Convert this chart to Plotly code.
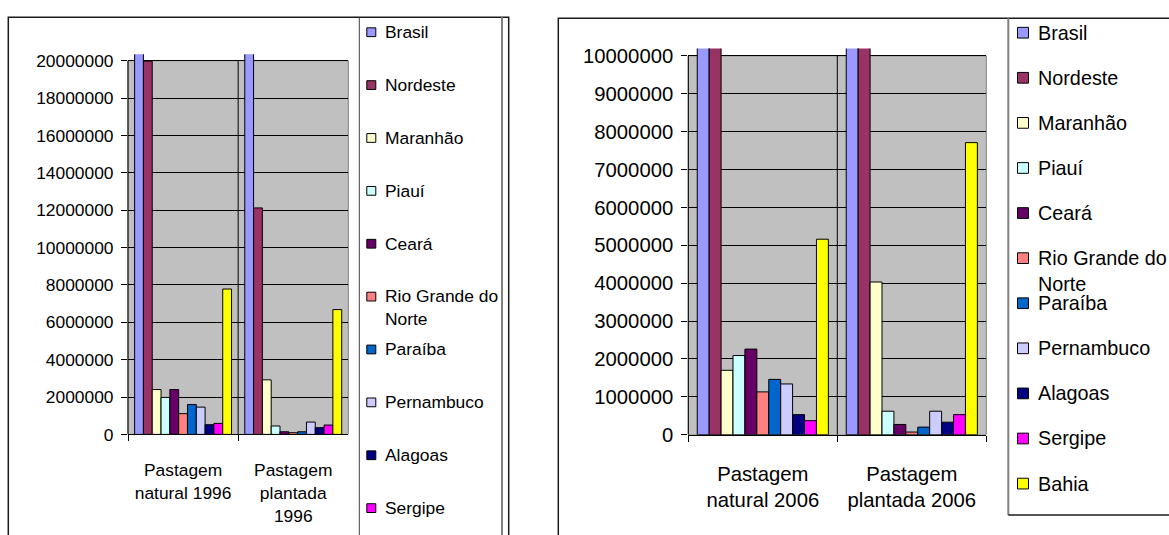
import plotly.graph_objects as go

W, H = 1169, 535
FONT = "Liberation Sans, Arial, sans-serif"

# Series (one per region) and their Excel-style fill colours
regions = ["Brasil", "Nordeste", "Maranhão", "Piauí", "Ceará", "Rio Grande do Norte",
           "Paraíba", "Pernambuco", "Alagoas", "Sergipe", "Bahia"]
colors = ["#9999FF", "#993366", "#FFFFCC", "#CCFFFF", "#660066", "#FF8080",
          "#0066CC", "#CCCCFF", "#000080", "#FF00FF", "#FFFF00"]

# Category labels for each census
categories_1996 = ["Pastagem<br>natural 1996", "Pastagem<br>plantada<br>1996"]
categories_2006 = ["Pastagem<br>natural 2006", "Pastagem<br>plantada 2006"]

# Pasture area (ha) per region, same order as `regions`
natural_1996 = [78000000, 19980000, 2400000, 1980000, 2400000, 1110000,
                1600000, 1460000, 520000, 590000, 7780000]
plantada_1996 = [99700000, 12120000, 2920000, 450000, 140000, 90000,
                 140000, 660000, 360000, 500000, 6680000]
natural_2006 = [57300000, 16080000, 1700000, 2090000, 2260000, 1130000,
                1460000, 1340000, 530000, 370000, 5160000]
plantada_2006 = [101400000, 14360000, 4030000, 620000, 270000, 70000,
                 200000, 620000, 330000, 530000, 7710000]

# Axis scales
y_max_1996, y_step_1996 = 20000000, 2000000
y_max_2006, y_step_2006 = 10000000, 1000000


def px(x):
    return x / W


def py(y):
    return 1 - y / H


def wrap(name, width=13):
    words, lines, cur = name.split(" "), [], ""
    for w in words:
        if cur and len(cur) + 1 + len(w) > width:
            lines.append(cur)
            cur = w
        else:
            cur = (cur + " " + w).strip()
    lines.append(cur)
    return "<br>".join(lines)


fig = go.Figure()

panels = [
    dict(x="x", y="y", cats=categories_1996, a=natural_1996, b=plantada_1996),
    dict(x="x2", y="y2", cats=categories_2006, a=natural_2006, b=plantada_2006),
]
for p in panels:
    for i, name in enumerate(regions):
        fig.add_trace(go.Bar(
            x=p["cats"], y=[p["a"][i], p["b"][i]], name=name,
            xaxis=p["x"], yaxis=p["y"], showlegend=False,
            marker=dict(color=colors[i], line=dict(color="#000000", width=1)),
        ))


def x_axis(domain, anchor, size, standoff):
    return dict(domain=domain, anchor=anchor, type="category",
                tickson="boundaries", ticks="outside", ticklen=6,
                tickcolor="#000000", showline=True, linecolor="#000000",
                linewidth=1, showgrid=False, zeroline=False,
                tickfont=dict(family=FONT, size=size, color="#000000"),
                ticklabelstandoff=standoff, fixedrange=True)


def y_axis(domain, anchor, rng, step, size):
    return dict(domain=domain, anchor=anchor, range=rng, dtick=step, tick0=0,
                ticks="outside", ticklen=6, tickcolor="#000000",
                showline=False, showgrid=True, gridcolor="#000000",
                gridwidth=1, zeroline=False, tickformat="d",
                tickfont=dict(family=FONT, size=size, color="#000000"),
                ticklabelstandoff=4, fixedrange=True)


fig.update_layout(
    width=W, height=H, margin=dict(l=0, r=0, t=0, b=0),
    paper_bgcolor="#FFFFFF", plot_bgcolor="rgba(0,0,0,0)",
    barmode="group", bargap=0.12, bargroupgap=0,
    xaxis=x_axis([px(128), px(348.3)], "y", 17.4, 20),
    yaxis=y_axis([py(443), py(52.7)], "x", [0, 20340000], y_step_1996, 17.4),
    xaxis2=x_axis([px(688.3), px(986.3)], "y2", 20.3, 21),
    yaxis2=y_axis([py(443.3), py(46.7)], "x2", [0, 10195000], y_step_2006, 20.3),
)

shapes = []
for xr, yr, top in [("x", "y", y_max_1996), ("x2", "y2", y_max_2006)]:
    # grey plot area up to the axis maximum
    shapes.append(dict(type="rect", xref=xr + " domain", yref=yr, x0=0, x1=1,
                       y0=0, y1=top, fillcolor="#C0C0C0",
                       line=dict(color="#808080", width=1), layer="below"))
    # value axis line
    shapes.append(dict(type="line", xref=xr + " domain", yref=yr, x0=0, x1=0,
                       y0=0, y1=top, line=dict(color="#000000", width=1)))
    # divider between the two categories
    shapes.append(dict(type="line", xref=xr, yref=yr, x0=0.5, x1=0.5,
                       y0=0, y1=top, line=dict(color="#000000", width=1),
                       layer="between"))

# chart frames and legend boxes
shapes += [
    dict(type="rect", xref="paper", yref="paper", x0=px(8.3), x1=px(508.7),
         y0=py(560), y1=py(14.7), line=dict(color="#1A1A1A", width=1.5)),
    dict(type="line", xref="paper", yref="paper", x0=px(359.3), x1=px(359.3),
         y0=py(560), y1=py(14.7), line=dict(color="#404040", width=1)),
    dict(type="line", xref="paper", yref="paper", x0=px(502), x1=px(502),
         y0=py(560), y1=py(14.7), line=dict(color="#808080", width=2)),
    dict(type="rect", xref="paper", yref="paper", x0=px(558.3), x1=px(1200),
         y0=py(560), y1=py(15.7), line=dict(color="#1A1A1A", width=1.5)),
    dict(type="line", xref="paper", yref="paper", x0=px(1008.3), x1=px(1008.3),
         y0=py(525.7), y1=py(15.7), line=dict(color="#808080", width=2)),
    dict(type="line", xref="paper", yref="paper", x0=px(1008.3), x1=px(1200),
         y0=py(525.7), y1=py(525.7), line=dict(color="#1A1A1A", width=1.5)),
]

annotations = []
legends = [
    dict(sq_x=371.3, sq=9, tx=382.5, y0=30, step=54.3, size=17.4),
    dict(sq_x=1023, sq=11, tx=1036, y0=30.5, step=46.3, size=19.8),
]
for lg in legends:
    for i, name in enumerate(regions):
        yc = lg["y0"] + i * lg["step"]
        if yc > H:
            continue
        h = lg["sq"] / 2
        shapes.append(dict(type="rect", xref="paper", yref="paper",
                           x0=px(lg["sq_x"] - h), x1=px(lg["sq_x"] + h),
                           y0=py(yc + h), y1=py(yc - h), fillcolor=colors[i],
                           line=dict(color="#000000", width=1)))
        label = wrap(name)
        n = label.count("<br>")
        annotations.append(dict(
            xref="paper", yref="paper", x=px(lg["tx"]),
            y=py(yc + n * 0.65 * lg["size"]), xanchor="left", yanchor="middle",
            text=label, showarrow=False, align="left",
            font=dict(family=FONT, size=lg["size"], color="#000000")))

fig.update_layout(shapes=shapes, annotations=annotations)
fig.write_html("out.html")
